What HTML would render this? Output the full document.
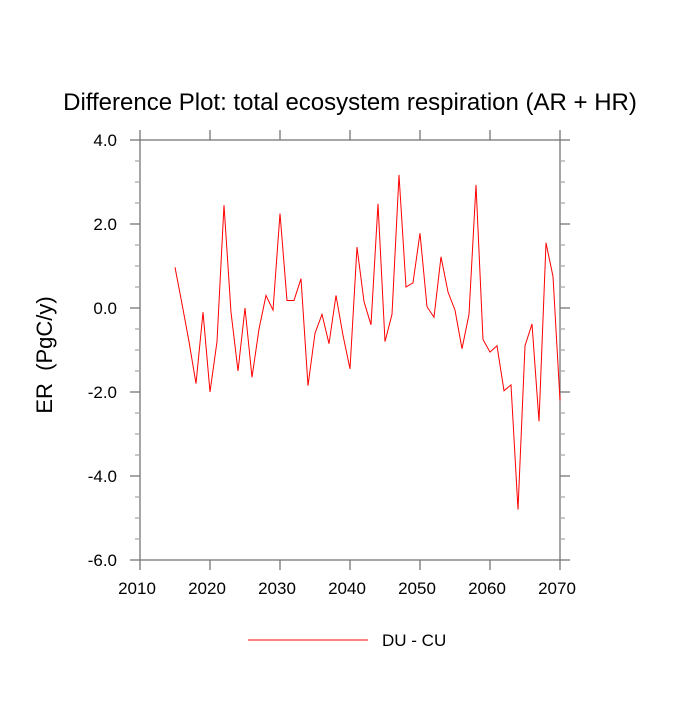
<!DOCTYPE html>
<html><head><meta charset="utf-8"><style>
body{margin:0;background:#fff}
svg text{font-family:"Liberation Sans",Helvetica,sans-serif;fill:#000}
</style></head><body>
<svg id="chart" width="700" height="700">
<text x="350" y="110" font-size="24" text-anchor="middle">Difference Plot: total ecosystem respiration (AR + HR)</text>
<text transform="translate(52,355) rotate(-90)" font-size="22" text-anchor="middle" style="white-space:pre" xml:space="preserve">ER  (PgC/y)</text>
<g id="axes"></g>
<g id="series"></g>
<line x1="248" y1="640" x2="368" y2="640" stroke="#f00" stroke-width="1"/>
<text x="382" y="646" font-size="17">DU - CU</text>
</svg>
<script>
const years=[2015,2016,2017,2018,2019,2020,2021,2022,2023,2024,2025,2026,2027,2028,2029,2030,2031,2032,2033,2034,2035,2036,2037,2038,2039,2040,2041,2042,2043,2044,2045,2046,2047,2048,2049,2050,2051,2052,2053,2054,2055,2056,2057,2058,2059,2060,2061,2062,2063,2064,2065,2066,2067,2068,2069,2070];
const erDiff=[0.97,0.1,-0.8,-1.8,-0.1,-2.0,-0.8,2.45,-0.1,-1.5,0.0,-1.65,-0.5,0.3,-0.05,2.25,0.18,0.18,0.7,-1.85,-0.6,-0.15,-0.85,0.3,-0.65,-1.45,1.45,0.15,-0.4,2.48,-0.8,-0.15,3.17,0.5,0.6,1.78,0.03,-0.22,1.22,0.38,-0.05,-0.97,-0.15,2.93,-0.75,-1.05,-0.9,-1.97,-1.83,-4.8,-0.9,-0.38,-2.7,1.55,0.75,-2.2];
const xTicks=[2010,2020,2030,2040,2050,2060,2070];
const yTicks=[4,2,0,-2,-4,-6];
const yTickLabels=["4.0","2.0","0.0","-2.0","-4.0","-6.0"];
const L=140,R=560,T=140,B=560,x0=2010,x1=2070,y0=-6,y1=4;
const sx=v=>L+(v-x0)/(x1-x0)*(R-L);
const sy=v=>B-(v-y0)/(y1-y0)*(B-T);
const NS="http://www.w3.org/2000/svg";
const ax=document.getElementById('axes');
function mk(tag,at,parent){const e=document.createElementNS(NS,tag);for(const k in at)e.setAttribute(k,at[k]);(parent||ax).appendChild(e);return e;}
const fr=mk('rect',{x:L,y:T,width:R-L,height:B-T,fill:'none',stroke:'#777','stroke-width':1.3});


xTicks.forEach(v=>{
 const x=sx(v);
 mk('line',{x1:x,y1:B,x2:x,y2:B+10,stroke:'#777','stroke-width':1.3});
 mk('line',{x1:x,y1:T,x2:x,y2:T-10,stroke:'#777','stroke-width':1.3});
 const t=mk('text',{x:x-3,y:B+34,'font-size':17,'text-anchor':'middle'});t.textContent=v;
 
 
});
for(let v=y0;v<=y1+1e-9;v+=0.5){
 const y=sy(v);const major=Math.abs(v/2-Math.round(v/2))<1e-9;
 const len=major?10:5, c=major?'#777':'#aaa';
 mk('line',{x1:L-len,y1:y,x2:L,y2:y,stroke:c,'stroke-width':1.3});
 mk('line',{x1:R,y1:y,x2:R+len,y2:y,stroke:c,'stroke-width':1.3});
}
yTicks.forEach((v,i)=>{
 const t=mk('text',{x:L-23,y:sy(v)+6,'font-size':17,'text-anchor':'end'});t.textContent=yTickLabels[i];
 
 
});
const pl=mk('polyline',{points:years.map((y,i)=>sx(y)+','+sy(erDiff[i])).join(' '),fill:'none',stroke:'#f00','stroke-width':1},document.getElementById('series'));


</script>
</body></html>
